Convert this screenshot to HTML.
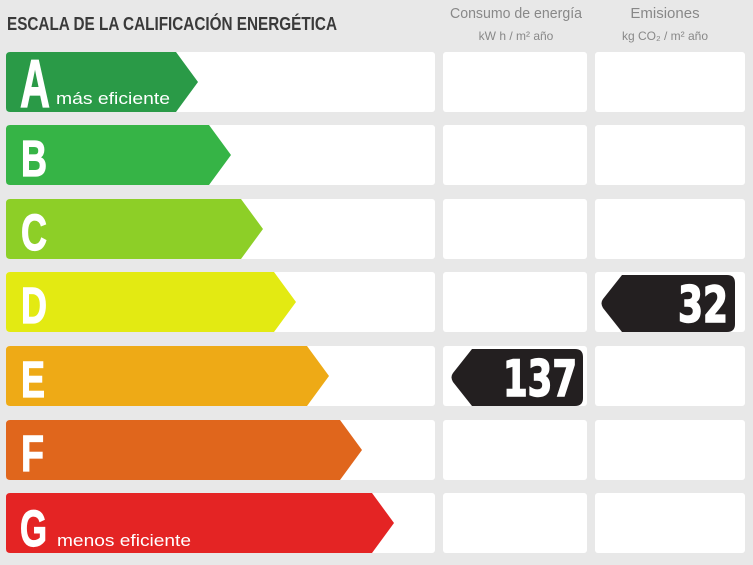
<!DOCTYPE html>
<html><head><meta charset="utf-8"><style>
html,body{margin:0;padding:0;background:#e8e8e8;width:753px;height:565px;overflow:hidden}
svg{display:block}
</style></head><body>
<svg width="753" height="565" viewBox="0 0 753 565" xmlns="http://www.w3.org/2000/svg" font-family="'Liberation Sans Narrow','Liberation Sans',sans-serif">
<rect width="753" height="565" fill="#e8e8e8"/>
<text x="7" y="30" font-size="18" font-weight="bold" fill="#3a3a3a" textLength="330" lengthAdjust="spacingAndGlyphs">ESCALA DE LA CALIFICACIÓN ENERGÉTICA</text>
<text x="516" y="18" font-size="15" fill="#888" text-anchor="middle" textLength="132" lengthAdjust="spacingAndGlyphs">Consumo de energía</text>
<text x="516" y="40" font-size="12" fill="#888" text-anchor="middle">kW h / m² año</text>
<text x="665" y="18" font-size="15" fill="#888" text-anchor="middle">Emisiones</text>
<text x="665" y="40" font-size="12" fill="#888" text-anchor="middle">kg CO₂ / m² año</text>
<g fill="#fff">
<rect x="6" y="52" width="429" height="60" rx="3"/><rect x="443" y="52" width="144" height="60" rx="3"/><rect x="595" y="52" width="150" height="60" rx="3"/>
<rect x="6" y="125" width="429" height="60" rx="3"/><rect x="443" y="125" width="144" height="60" rx="3"/><rect x="595" y="125" width="150" height="60" rx="3"/>
<rect x="6" y="199" width="429" height="60" rx="3"/><rect x="443" y="199" width="144" height="60" rx="3"/><rect x="595" y="199" width="150" height="60" rx="3"/>
<rect x="6" y="272" width="429" height="60" rx="3"/><rect x="443" y="272" width="144" height="60" rx="3"/><rect x="595" y="272" width="150" height="60" rx="3"/>
<rect x="6" y="346" width="429" height="60" rx="3"/><rect x="443" y="346" width="144" height="60" rx="3"/><rect x="595" y="346" width="150" height="60" rx="3"/>
<rect x="6" y="420" width="429" height="60" rx="3"/><rect x="443" y="420" width="144" height="60" rx="3"/><rect x="595" y="420" width="150" height="60" rx="3"/>
<rect x="6" y="493" width="429" height="60" rx="3"/><rect x="443" y="493" width="144" height="60" rx="3"/><rect x="595" y="493" width="150" height="60" rx="3"/>
</g>
<path d="M10 52 H176 L198 82 L176 112 H10 Q6 112 6 108 V56 Q6 52 10 52Z" fill="#2a9a47"/>
<path d="M10 125 H209 L231 155 L209 185 H10 Q6 185 6 181 V129 Q6 125 10 125Z" fill="#36b446"/>
<path d="M10 199 H241 L263 229 L241 259 H10 Q6 259 6 255 V203 Q6 199 10 199Z" fill="#8dcf27"/>
<path d="M10 272 H274 L296 302 L274 332 H10 Q6 332 6 328 V276 Q6 272 10 272Z" fill="#e3ea12"/>
<path d="M10 346 H307 L329 376 L307 406 H10 Q6 406 6 402 V350 Q6 346 10 346Z" fill="#eeaa16"/>
<path d="M10 420 H340 L362 450 L340 480 H10 Q6 480 6 476 V424 Q6 420 10 420Z" fill="#e0661c"/>
<path d="M10 493 H372 L394 523 L372 553 H10 Q6 553 6 549 V497 Q6 493 10 493Z" fill="#e42424"/>
<g fill="#fff" font-weight="bold" font-size="51" stroke="#fff" stroke-width="1.2">
<text x="20" y="107" font-size="68" textLength="30" lengthAdjust="spacingAndGlyphs">A</text>
<text x="21" y="176" textLength="26" lengthAdjust="spacingAndGlyphs">B</text>
<text x="21" y="250" textLength="26" lengthAdjust="spacingAndGlyphs">C</text>
<text x="21" y="323" textLength="26" lengthAdjust="spacingAndGlyphs">D</text>
<text x="21" y="397" textLength="24" lengthAdjust="spacingAndGlyphs">E</text>
<text x="21" y="471" textLength="23" lengthAdjust="spacingAndGlyphs">F</text>
<text x="20" y="546" textLength="27" lengthAdjust="spacingAndGlyphs">G</text>
</g>
<text x="56" y="104" font-size="17" fill="#fff" textLength="114" lengthAdjust="spacingAndGlyphs">más eficiente</text>
<text x="57" y="546" font-size="17" fill="#fff" textLength="134" lengthAdjust="spacingAndGlyphs">menos eficiente</text>
<path d="M622 275 H727 Q735 275 735 283 V324 Q735 332 727 332 H622 L603 308 Q600 303 603 299Z" fill="#231f20"/>
<path d="M472 349 H575 Q583 349 583 357 V398 Q583 406 575 406 H472 L453 382 Q450 377 453 373Z" fill="#231f20"/>
<g fill="#fff" font-weight="bold" font-size="50" stroke="#fff" stroke-width="1.5" font-family="'DejaVu Sans Condensed','Liberation Sans Narrow',sans-serif">
<text x="728" y="322" text-anchor="end" textLength="50" lengthAdjust="spacingAndGlyphs">32</text>
<text x="577" y="396" text-anchor="end" textLength="74" lengthAdjust="spacingAndGlyphs">137</text>
</g>
</svg>
</body></html>
